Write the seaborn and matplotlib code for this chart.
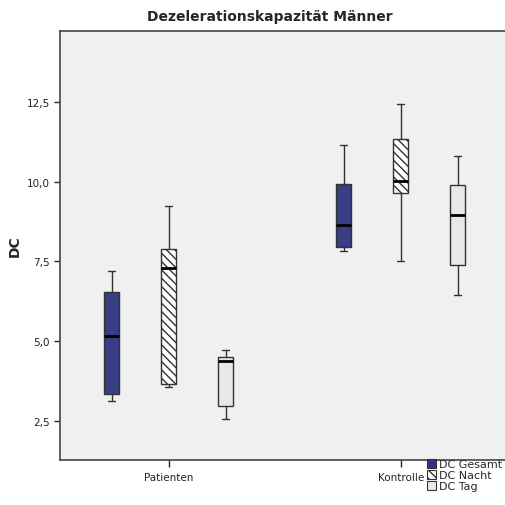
import numpy as np
import pandas as pd
import matplotlib
matplotlib.use("Agg")
import matplotlib.pyplot as plt
from matplotlib.patches import Patch
import seaborn as sns

# ---- data (five-number summaries) ----
groups = ["Patienten", "Kontrolle"]
series = ["DC Gesamt", "DC Nacht", "DC Tag"]
# each list: [min, q1, median, q3, max]
pat_gesamt = [3.12, 3.34, 5.17, 6.53, 7.19]
pat_nacht = [3.55, 3.64, 7.28, 7.88, 9.22]
pat_tag = [2.55, 2.95, 4.37, 4.49, 4.73]
kon_gesamt = [7.83, 7.94, 8.63, 9.92, 11.16]
kon_nacht = [7.50, 9.65, 10.02, 11.33, 12.44]
kon_tag = [6.43, 7.37, 8.94, 9.89, 10.79]
ytick_values = [2.5, 5.0, 7.5, 10.0, 12.5]
ytick_labels = ["2,5", "5,0", "7,5", "10,0", "12,5"]

rows = []
for g, lists in zip(groups, [[pat_gesamt, pat_nacht, pat_tag],
                             [kon_gesamt, kon_nacht, kon_tag]]):
    for s, vals in zip(series, lists):
        for v in vals:
            rows.append({"group": g, "series": s, "DC": v})
df = pd.DataFrame(rows)

sns.set_style("white")
plt.rcParams["font.family"] = ["DejaVu Sans"]
plt.rcParams["hatch.linewidth"] = 1.0
plt.rcParams["hatch.color"] = "#333333"

colors = {"DC Gesamt": "#2c3590", "DC Nacht": "#ffffff", "DC Tag": "#e8e8e8"}
edge = "#333333"
hatch = "\\\\\\\\"

fig = plt.figure(figsize=(5.05, 5.06), dpi=100)
ax = fig.add_axes([60 / 505, 1 - 461 / 506, 1 - 60 / 505, (461 - 32) / 506])
ax.set_facecolor("#f0f0f0")

sns.boxplot(data=df, x="group", y="DC", hue="series", order=groups,
            hue_order=series, palette=colors, width=0.737, gap=0.74,
            whis=(0, 100), linecolor=edge, linewidth=1.0,
            medianprops=dict(color="black", linewidth=2.0),
            legend=False, ax=ax)

for p in ax.patches:
    fc = p.get_facecolor()
    if fc[0] > 0.99 and fc[1] > 0.99 and fc[2] > 0.99:
        p.set_hatch(hatch)

ax.set_xlim(-0.4685, 1.4496)
ax.set_ylim(1.27, 14.72)
ax.set_yticks(ytick_values)
ax.set_yticklabels(ytick_labels, fontsize=7.5, color="#222222")
ax.tick_params(axis="x", labelsize=7.5, colors="#222222", length=5, width=1,
               direction="out", bottom=True)
ax.tick_params(axis="y", length=4, width=1, direction="out", left=True)
ax.set_xlabel("")
ax.set_ylabel("DC", fontsize=10, fontweight="bold", labelpad=3)
for side in ["left", "bottom", "top"]:
    ax.spines[side].set_color("#444444")
    ax.spines[side].set_linewidth(1.2)
ax.spines["right"].set_visible(False)

fig.text(270 / 505, 1 - 17 / 506, "Dezelerationskapazität Männer",
         ha="center", va="center", fontsize=10, fontweight="bold")

handles = [Patch(facecolor=colors[s], edgecolor=edge, linewidth=0.8,
                 hatch=(hatch if s == "DC Nacht" else None)) for s in series]
fig.legend(handles, series, loc="upper left",
           bbox_to_anchor=(427 / 505, 1 - 460 / 506), frameon=False,
           fontsize=8, handlelength=0.85, handleheight=0.9,
           handletextpad=0.2, labelspacing=0.05, borderpad=0, borderaxespad=0)

fig.savefig("out.png", dpi=100)
